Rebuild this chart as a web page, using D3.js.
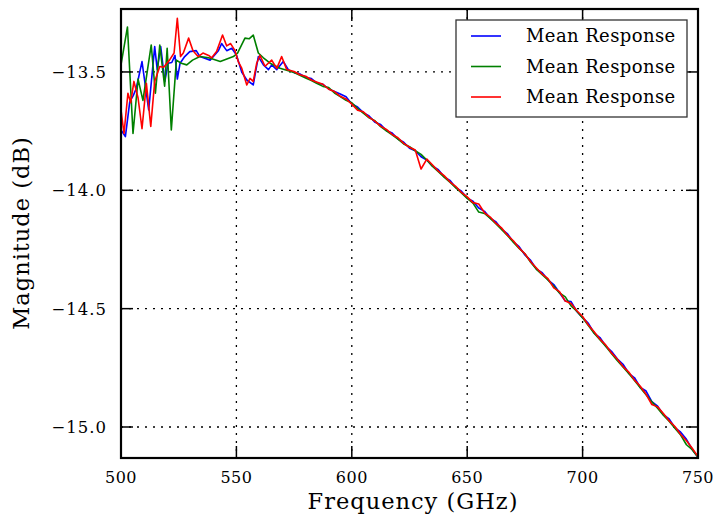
<!DOCTYPE html>
<html lang="en">

<head>
    <meta charset="UTF-8" />
    <style>
        body { margin: 0; background: #fff; }
        text { font-family: "DejaVu Serif", serif; fill: #000; }
    </style>
</head>

<body>
    <svg width="714" height="523"></svg>
    <script src="https://d3js.org/d3.v7.min.js"></script>
    <script>
        // tick labels
        var xTicks = [500, 550, 600, 650, 700, 750];
        var yTicks = [-15.0, -14.5, -14.0, -13.5];
        var seriesNames = ["Mean Response", "Mean Response", "Mean Response"];
        var seriesColors = ["#0000ff", "#008000", "#ff0000"];

        // noisy low-frequency part, read point by point  [GHz, dB]
        var blueHead = [[500, -13.745], [501.9, -13.773], [503.8, -13.625], [505.3, -13.60], [506.6, -13.57],
            [509.1, -13.456], [511, -13.59], [512, -13.66], [514.6, -13.393], [515.7, -13.49], [517.2, -13.393],
            [519, -13.54], [520.4, -13.463], [522, -13.46], [523.4, -13.43], [524.4, -13.53], [525.6, -13.463],
            [527.6, -13.435], [529.8, -13.414], [532.6, -13.41], [534.2, -13.435], [538.6, -13.45], [542.2, -13.41],
            [543.6, -13.38], [545.8, -13.41], [548, -13.40], [550.1, -13.43], [552.3, -13.50], [554.5, -13.534],
            [557.3, -13.555], [559.5, -13.435], [561.7, -13.47], [563.9, -13.49], [565.3, -13.47], [567.5, -13.49],
            [570.3, -13.456], [572.5, -13.49]];
        var greenHead = [[500, -13.47], [502.8, -13.31], [505.2, -13.76], [507.4, -13.53], [509.5, -13.62],
            [513.1, -13.386], [514.9, -13.59], [516.8, -13.386], [518.9, -13.56], [520, -13.40], [521.8, -13.745],
            [524, -13.45], [526.1, -13.463], [528.5, -13.47], [531, -13.45], [534.2, -13.435], [538, -13.44],
            [543, -13.456], [548.7, -13.435], [550.5, -13.42], [553.7, -13.357], [555.5, -13.36], [557.3, -13.344],
            [559.5, -13.42], [561.7, -13.44], [564.6, -13.463], [568.9, -13.484], [572.5, -13.495]];
        var redHead = [[500, -13.66], [501.3, -13.76], [503, -13.59], [504.2, -13.63], [505.6, -13.54],
            [507.4, -13.61], [509.1, -13.74], [511, -13.548], [512.9, -13.73], [514.6, -13.54], [516.8, -13.477],
            [518.5, -13.48], [521, -13.45], [523, -13.42], [524.4, -13.273], [525.8, -13.435], [527, -13.42],
            [529.3, -13.357], [531.2, -13.41], [533.4, -13.435], [535.5, -13.42], [538, -13.43], [539.3, -13.44],
            [541.4, -13.414], [544, -13.344], [545.8, -13.39], [547.5, -13.38], [549.4, -13.41], [550.8, -13.456],
            [552.3, -13.484], [554.5, -13.555], [555.9, -13.527], [557.3, -13.54], [558.8, -13.463], [560.2, -13.43],
            [562.4, -13.476], [565.3, -13.45], [567.5, -13.485], [569.6, -13.435], [571.8, -13.49]];

        // smooth roll-off part
        var tailFreq = [575, 577.5, 580, 582.5, 585, 587.5, 590, 592.5, 595, 597.5,
            600, 602.5, 605, 607.5, 610, 612.5, 615, 617.5, 620, 622.5,
            625, 627.5, 630, 632.5, 635, 637.5, 640, 642.5, 645, 647.5,
            650, 652.5, 655, 657.5, 660, 662.5, 665, 667.5, 670, 672.5,
            675, 677.5, 680, 682.5, 685, 687.5, 690, 692.5, 695, 697.5,
            700, 702.5, 705, 707.5, 710, 712.5, 715, 717.5, 720, 722.5,
            725, 727.5, 730, 732.5, 735, 737.5, 740, 742.5, 745, 747.5, 750];
        var blueTail = [-13.503, -13.508, -13.522, -13.528, -13.548, -13.552, -13.572, -13.582, -13.593, -13.605,
            -13.635, -13.648, -13.672, -13.686, -13.712, -13.722, -13.748, -13.758, -13.783, -13.797,
            -13.822, -13.833, -13.858, -13.872, -13.898, -13.913, -13.943, -13.958, -13.988, -14.004,
            -14.033, -14.046, -14.075, -14.089, -14.118, -14.134, -14.165, -14.184, -14.218, -14.238,
            -14.273, -14.296, -14.333, -14.348, -14.378, -14.398, -14.433, -14.468, -14.470, -14.512,
            -14.538, -14.562, -14.603, -14.622, -14.658, -14.680, -14.712, -14.735, -14.773, -14.792,
            -14.833, -14.848, -14.893, -14.912, -14.948, -14.966, -15.003, -15.022, -15.052, -15.095, -15.128];
        var greenTail = [-13.502, -13.514, -13.526, -13.536, -13.549, -13.561, -13.566, -13.589, -13.604, -13.620,
            -13.630, -13.655, -13.674, -13.694, -13.706, -13.731, -13.749, -13.766, -13.784, -13.804,
            -13.816, -13.833, -13.848, -13.872, -13.899, -13.921, -13.944, -13.966, -13.989, -14.011,
            -14.034, -14.054, -14.092, -14.098, -14.119, -14.142, -14.166, -14.192, -14.219, -14.246,
            -14.268, -14.304, -14.334, -14.356, -14.379, -14.406, -14.434, -14.450, -14.488, -14.511,
            -14.539, -14.571, -14.604, -14.631, -14.659, -14.689, -14.719, -14.746, -14.774, -14.804,
            -14.834, -14.864, -14.894, -14.921, -14.950, -14.976, -15.005, -15.034, -15.075, -15.096, -15.128];
        var redTail = [-13.498, -13.512, -13.518, -13.534, -13.543, -13.552, -13.573, -13.583, -13.603, -13.614,
            -13.636, -13.662, -13.668, -13.692, -13.708, -13.729, -13.743, -13.764, -13.778, -13.802,
            -13.818, -13.830, -13.910, -13.868, -13.893, -13.919, -13.938, -13.964, -13.983, -14.009,
            -14.028, -14.052, -14.058, -14.095, -14.113, -14.140, -14.160, -14.190, -14.213, -14.244,
            -14.268, -14.302, -14.328, -14.354, -14.373, -14.412, -14.428, -14.468, -14.478, -14.509,
            -14.533, -14.569, -14.598, -14.629, -14.653, -14.687, -14.713, -14.744, -14.768, -14.802,
            -14.828, -14.862, -14.905, -14.915, -14.943, -14.974, -14.998, -15.032, -15.058, -15.090, -15.125];

        var svg = d3.select("svg");
        var pLeft = 121, pRight = 698, pTop = 9, pBottom = 458;

        var x = d3.scaleLinear().domain([500, 750]).range([pLeft, pRight]);
        var y = d3.scaleLinear().domain([-15.131, -13.234]).range([pBottom, pTop]);

        function join(head, tail) {
            return head.concat(tailFreq.map(function (f, i) { return [f, tail[i]]; }));
        }
        var series = [join(blueHead, blueTail), join(greenHead, greenTail), join(redHead, redTail)];

        svg.append("clipPath").attr("id", "clip")
            .append("rect").attr("x", pLeft).attr("y", pTop)
            .attr("width", pRight - pLeft).attr("height", pBottom - pTop);

        // grid
        var grid = svg.append("g")
            .attr("stroke", "#000").attr("stroke-width", 1.3).attr("stroke-dasharray", "2,6");
        grid.selectAll(".gx").data(xTicks.slice(1, -1)).enter().append("line")
            .attr("x1", function (d) { return x(d); }).attr("x2", function (d) { return x(d); })
            .attr("y1", pTop).attr("y2", pBottom);
        grid.selectAll(".gy").data(yTicks).enter().append("line")
            .attr("y1", function (d) { return y(d); }).attr("y2", function (d) { return y(d); })
            .attr("x1", pLeft).attr("x2", pRight);

        // curves
        var line = d3.line().x(function (d) { return x(d[0]); }).y(function (d) { return y(d[1]); });
        svg.append("g").attr("clip-path", "url(#clip)")
            .selectAll("path").data(series).enter().append("path")
            .attr("d", line)
            .attr("fill", "none")
            .attr("stroke", function (d, i) { return seriesColors[i]; })
            .attr("stroke-width", 1.6)
            .attr("stroke-linejoin", "round");

        // inward ticks on all four sides
        var tk = 12;
        var axes = svg.append("g").attr("stroke", "#000").attr("stroke-width", 1.5);
        xTicks.forEach(function (d) {
            axes.append("line").attr("x1", x(d)).attr("x2", x(d)).attr("y1", pBottom).attr("y2", pBottom - tk);
            axes.append("line").attr("x1", x(d)).attr("x2", x(d)).attr("y1", pTop).attr("y2", pTop + tk);
        });
        yTicks.forEach(function (d) {
            axes.append("line").attr("y1", y(d)).attr("y2", y(d)).attr("x1", pLeft).attr("x2", pLeft + tk);
            axes.append("line").attr("y1", y(d)).attr("y2", y(d)).attr("x1", pRight).attr("x2", pRight - tk);
        });

        svg.append("rect")
            .attr("x", pLeft).attr("y", pTop)
            .attr("width", pRight - pLeft).attr("height", pBottom - pTop)
            .attr("fill", "none").attr("stroke", "#000").attr("stroke-width", 2.2);

        // tick labels
        var fmt = d3.format(".1f");
        svg.selectAll(".xl").data(xTicks).enter().append("text")
            .attr("x", function (d) { return x(d); }).attr("y", 483)
            .attr("text-anchor", "middle").attr("font-size", 16)
            .attr("letter-spacing", 0.5)
            .text(function (d) { return d; });
        svg.selectAll(".yl").data(yTicks).enter().append("text")
            .attr("x", 107).attr("y", function (d) { return y(d) + 6; })
            .attr("text-anchor", "end").attr("font-size", 16.5)
            .attr("letter-spacing", 1)
            .text(function (d) { return fmt(d).replace("-", "\u2212"); });

        // axis titles
        svg.append("text").attr("x", 413).attr("y", 509)
            .attr("text-anchor", "middle").attr("font-size", 22.5)
            .attr("letter-spacing", 1)
            .text("Frequency (GHz)");
        svg.append("text").attr("transform", "translate(29,233) rotate(-90)")
            .attr("text-anchor", "middle").attr("font-size", 22.5)
            .attr("letter-spacing", 1)
            .text("Magnitude (dB)");

        // legend
        var lg = svg.append("g");
        lg.append("rect").attr("x", 456).attr("y", 20).attr("width", 231).attr("height", 97)
            .attr("fill", "#fff").attr("stroke", "#333").attr("stroke-width", 1.3);
        seriesNames.forEach(function (name, i) {
            var ly = 36 + i * 30.5;
            lg.append("line").attr("x1", 471).attr("x2", 501).attr("y1", ly).attr("y2", ly)
                .attr("stroke", seriesColors[i]).attr("stroke-width", 1.6);
            lg.append("text").attr("x", 526).attr("y", ly + 6).attr("font-size", 18)
                .attr("letter-spacing", 0.4)
                .text(name);
        });
    </script>
</body>

</html>
